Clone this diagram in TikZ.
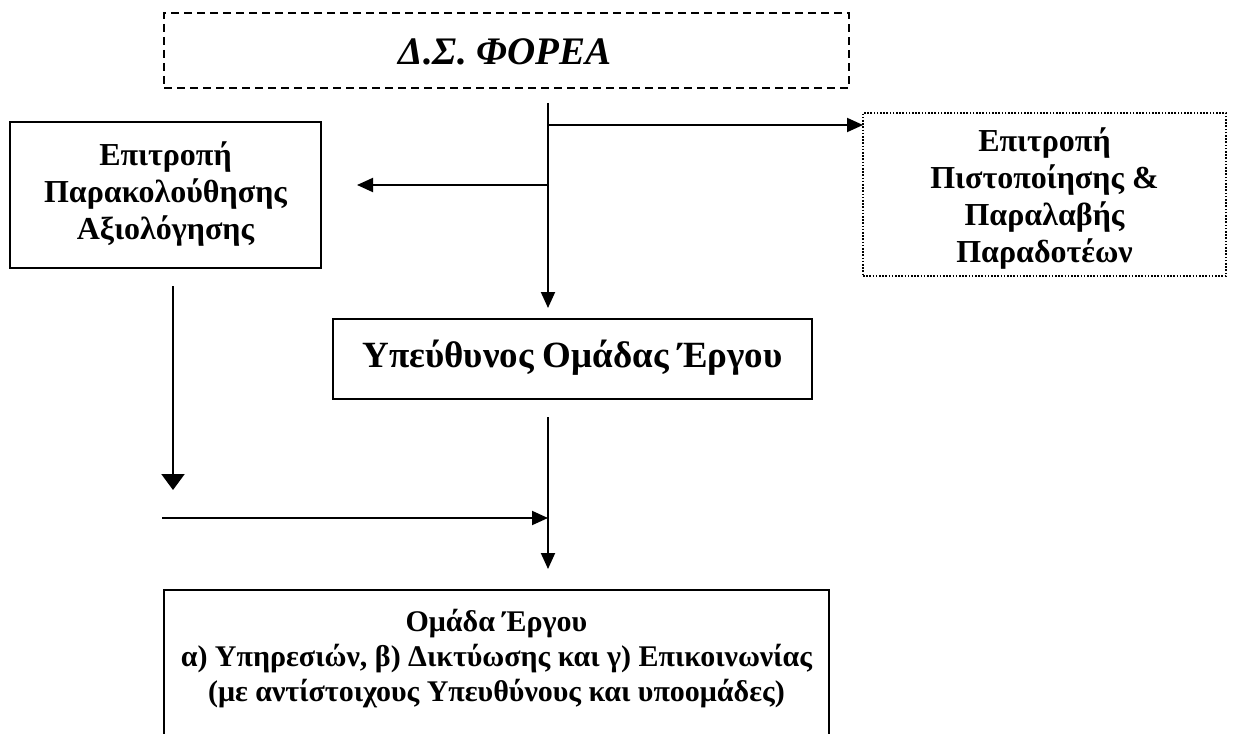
\documentclass[tikz,border=0pt]{standalone}
\usepackage{fontspec}
\setmainfont{Liberation Serif}
\usetikzlibrary{arrows.meta}
\begin{document}
\begin{tikzpicture}[x=1pt,y=-1pt,
  box/.style={draw, line width=1.8pt, inner sep=0pt},
  dashbox/.style={draw, line width=1.8pt, dash pattern=on 8pt off 5pt, inner sep=0pt},
  dotbox/.style={draw, line width=1.6pt, dash pattern=on 1.6pt off 1.6pt, inner sep=0pt},
  lbl/.style={font=\fontsize{32}{37}\selectfont\bfseries, align=center, inner sep=0pt},
  arr/.style={line width=1.9pt, -{Triangle[length=16pt,width=14pt]}},
  bigarr/.style={line width=2.2pt, -{Triangle[length=16pt,width=23pt]}}]
\clip (0,0) rectangle (1233,733);
% boxes
\node[dashbox, minimum width=685pt, minimum height=75pt] (ds) at (506.5,50.5) {};
\node[font=\fontsize{39}{44}\selectfont\bfseries\itshape, inner sep=0pt] (dstext) at (505,52) {Δ.Σ. ΦΟΡΕΑ};
\node[box, minimum width=311pt, minimum height=146pt] (mon) at (165.5,195) {};
\node[lbl] (montext) at (165.5,194) {Επιτροπή\\Παρακολούθησης\\Αξιολόγησης};
\node[dotbox, minimum width=363pt, minimum height=163pt] (cert) at (1044.5,194.5) {};
\node[lbl] (certtext) at (1044.5,199) {Επιτροπή\\Πιστοποίησης \&\\Παραλαβής\\Παραδοτέων};
\node[box, minimum width=479pt, minimum height=80pt] (head) at (572.5,359) {};
\node[font=\fontsize{37}{42}\selectfont\bfseries, inner sep=0pt] (headtext) at (572.5,358) {Υπεύθυνος Ομάδας Έργου};
\node[box, minimum width=665pt, minimum height=190pt, anchor=north west] (team) at (163,589) {};
\node[lbl, font=\fontsize{30}{35}\selectfont\bfseries] (teamtext) at ([yshift=-70pt]team.north) {Ομάδα Έργου\\α) Υπηρεσιών, β) Δικτύωσης και γ) Επικοινωνίας\\(με αντίστοιχους Υπευθύνους και υποομάδες)};
% connector points
\coordinate (a0) at (548,103);
\coordinate (a1) at (548,125);
\coordinate (a2) at (548,185);
\coordinate (a3) at (548,308);
\coordinate (r1) at (863,125);
\coordinate (l1) at (357,185);
\coordinate (b0) at (173,286);
\coordinate (b1) at (173,490);
\coordinate (c0) at (162,518);
\coordinate (c1) at (548,518);
\coordinate (d0) at (548,417);
\coordinate (d1) at (548,569);
% connectors
\draw[arr] (a0) -- (a3);
\draw[arr] (a1) -- (r1);
\draw[arr] (a2) -- (l1);
\draw[bigarr] (b0) -- (b1);
\draw[arr] (c0) -- (c1);
\draw[arr] (d0) -- (d1);
\end{tikzpicture}
\end{document}
